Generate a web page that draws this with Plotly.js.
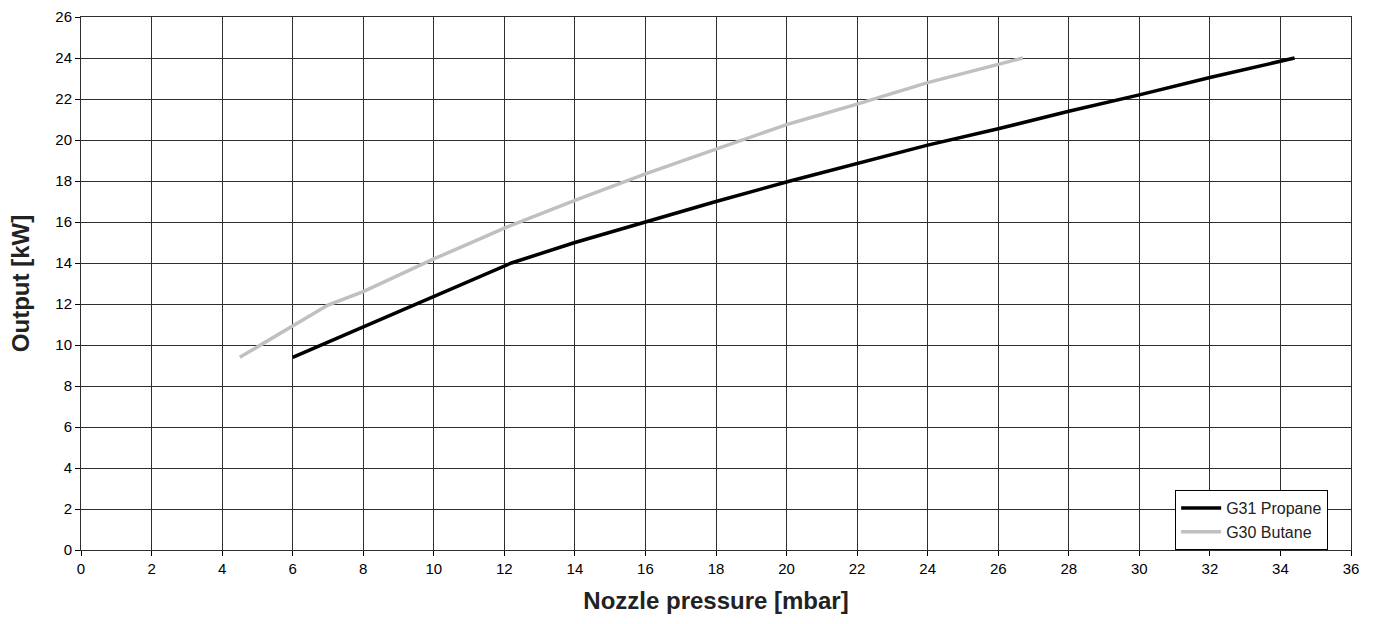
<!DOCTYPE html>
<html>
<head>
<meta charset="utf-8">
<script src="https://cdn.plot.ly/plotly-3.0.1.min.js"></script>
<style>html,body{margin:0;padding:0;background:#fff;}#chart{width:1377px;height:624px;}</style>
</head>
<body>
<div id="chart"></div>
<script>
// Series names
const seriesNames = ["G31 Propane", "G30 Butane"];

// G31 Propane: nozzle pressure [mbar] vs output [kW]
const propanePressure = [6, 12.2, 14, 16, 18, 20.1, 22, 24, 26, 28, 30, 32, 34.4];
const propaneOutput   = [9.4, 14.0, 15.0, 16.0, 17.0, 18.0, 18.85, 19.75, 20.55, 21.4, 22.2, 23.05, 24.0];

// G30 Butane
const butanePressure = [4.5, 6, 7, 8, 10, 11, 12, 14, 16, 18, 20, 20.5, 22, 24, 26.7];
const butaneOutput   = [9.4, 10.95, 11.95, 12.6, 14.2, 14.95, 15.7, 17.05, 18.35, 19.55, 20.75, 21.0, 21.75, 22.8, 24.0];

// Axis ticks
const xTicks = [0, 2, 4, 6, 8, 10, 12, 14, 16, 18, 20, 22, 24, 26, 28, 30, 32, 34, 36];
const yTicks = [0, 2, 4, 6, 8, 10, 12, 14, 16, 18, 20, 22, 24, 26];

const font = "Liberation Sans, Arial, sans-serif";

const traces = [
  {x: propanePressure, y: propaneOutput, name: seriesNames[0], mode: "lines",
   line: {color: "#000000", width: 3.5}},
  {x: butanePressure, y: butaneOutput, name: seriesNames[1], mode: "lines",
   line: {color: "#c0c0c0", width: 3.5}}
];

const layout = {
  width: 1377, height: 624,
  margin: {l: 81, r: 26, t: 17, b: 74},
  paper_bgcolor: "#ffffff", plot_bgcolor: "#ffffff",
  font: {family: font, color: "#000000", size: 15},
  showlegend: true,
  legend: {
    x: 0.982, xanchor: "right", xref: "paper",
    y: 0, yanchor: "bottom", yref: "paper",
    bgcolor: "#ffffff", bordercolor: "#000000", borderwidth: 1,
    font: {family: font, size: 16, color: "#222222"},
    itemwidth: 40, tracegroupgap: 0
  },
  xaxis: {
    range: [0, 36], tickmode: "array", tickvals: xTicks, ticktext: xTicks.map(String),
    showgrid: true, gridcolor: "#2e2e2e", gridwidth: 1,
    showline: true, linecolor: "#2e2e2e", linewidth: 1, mirror: true,
    ticks: "outside", ticklen: 5, tickcolor: "#000000",
    zeroline: false,
    tickfont: {family: font, size: 15, color: "#000000"},
    title: {text: "<b>Nozzle pressure [mbar]</b>", font: {family: font, size: 24, color: "#222222"}, standoff: 16}
  },
  yaxis: {
    range: [0, 26], tickmode: "array", tickvals: yTicks, ticktext: yTicks.map(String),
    showgrid: true, gridcolor: "#2e2e2e", gridwidth: 1,
    showline: true, linecolor: "#2e2e2e", linewidth: 1, mirror: true,
    ticks: "outside", ticklen: 5, tickcolor: "#000000",
    zeroline: false,
    tickfont: {family: font, size: 15, color: "#000000"},
    title: {text: "<b>Output [kW]</b>", font: {family: font, size: 24, color: "#222222"}, standoff: 18}
  }
};

Plotly.newPlot("chart", traces, layout, {displayModeBar: false, staticPlot: true});
</script>
</body>
</html>
